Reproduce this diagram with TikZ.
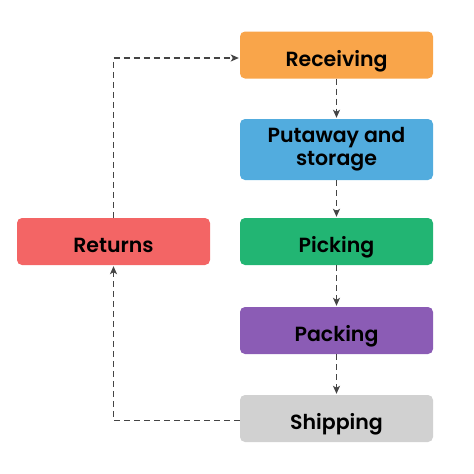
\documentclass[tikz,border=0pt]{standalone}
\usepackage{fontspec}
\setmainfont{Poppins}[BoldFont={Poppins SemiBold}]
\usetikzlibrary{arrows.meta}
\definecolor{cRecv}{HTML}{F9A54A}
\definecolor{cPut}{HTML}{52ACDE}
\definecolor{cPick}{HTML}{22B573}
\definecolor{cPack}{HTML}{8B5CB5}
\definecolor{cShip}{HTML}{D1D1D1}
\definecolor{cRet}{HTML}{F36565}
\definecolor{cLine}{HTML}{444444}
\begin{document}
\begin{tikzpicture}[x=1pt,y=-1pt,
  stagebase/.style={rounded corners=5pt, minimum width=193pt, minimum height=47pt,
    inner sep=0pt, align=center, font=\fontsize{20.5}{23}\selectfont\bfseries, text=black},
  stage/.style={stagebase, text height=22pt, text depth=0pt},
  flow/.style={draw=cLine, line width=1.2pt, dash pattern=on 6pt off 4pt,
    -{Stealth[length=8pt,width=7pt,inset=2pt]}, shorten >=1pt}]
\useasboundingbox (0,0) rectangle (474,474);
\node[stage, fill=cRecv] (recv) at (336.5,55) {Receiving};
\node[stagebase, fill=cPut, minimum height=61pt] (put) at (336.5,149.5) {Putaway and\\storage};
\node[stage, fill=cPick] (pick) at (336.5,241.5) {Picking};
\node[stage, fill=cPack] (pack) at (336.5,330.5) {Packing};
\node[stage, fill=cShip] (ship) at (336.5,418.5) {Shipping};
\node[stage, fill=cRet] (ret) at (113.5,241.5) {Returns};
\draw[flow] (recv) -- (put);
\draw[flow] (put) -- (pick);
\draw[flow] (pick) -- (pack);
\draw[flow] (pack) -- (ship);
\draw[flow] ([yshift=-2pt]ship.west) -| (ret.south);
\draw[flow] (ret.north) |- ([yshift=-3pt]recv.west);
\end{tikzpicture}
\end{document}
